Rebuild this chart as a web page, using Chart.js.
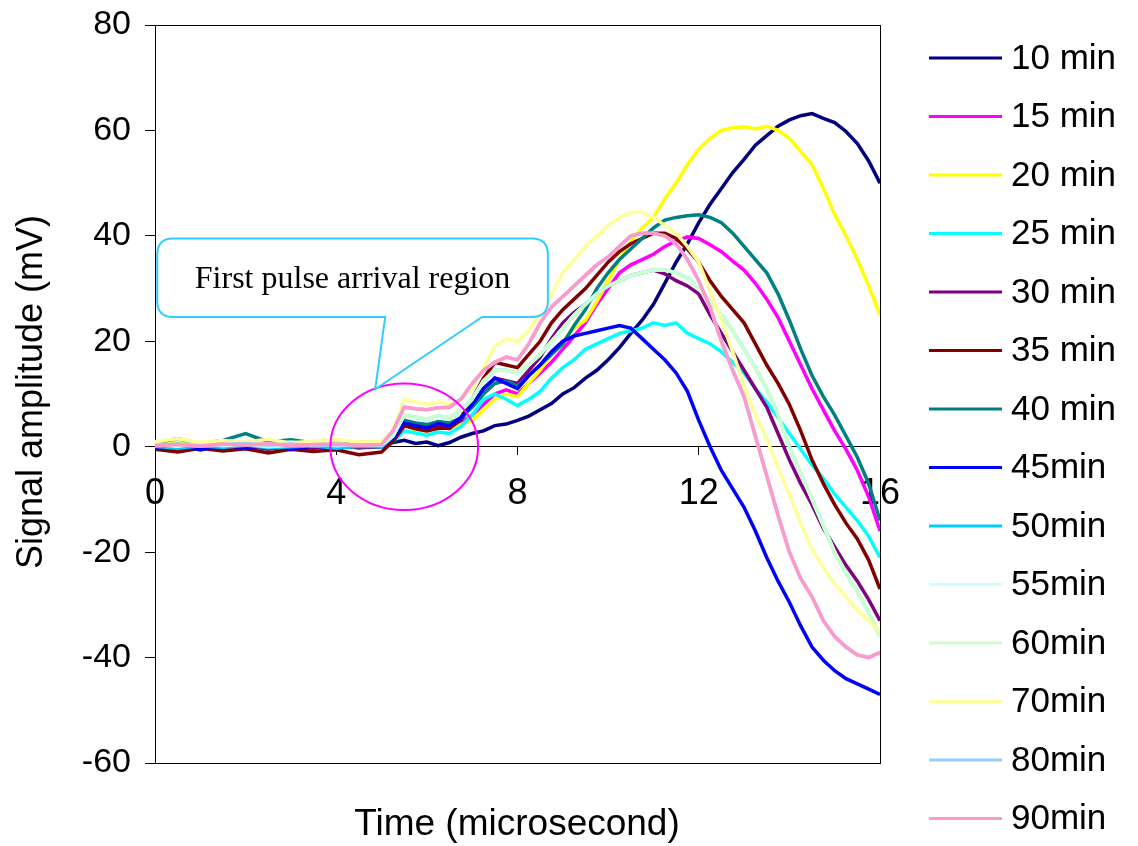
<!DOCTYPE html>
<html><head><meta charset="utf-8">
<script src="https://cdn.jsdelivr.net/npm/chart.js@4"></script>
<style>html,body{margin:0;padding:0;background:#fff}#wrap{width:1138px;height:846px}</style>
</head><body><div id="wrap"><canvas id="c" width="1138" height="846"></canvas></div>
<script>
// Time axis (microsecond): 0.5 steps in the quiet part, 0.25 steps after the first arrival
const times = [0,0.5,1,1.5,2,2.5,3,3.5,4,4.5,5,
  5.25,5.5,5.75,6,6.25,6.5,6.75,7,7.25,7.5,7.75,8,8.25,8.5,8.75,9,9.25,9.5,9.75,10,
  10.25,10.5,10.75,11,11.25,11.5,11.75,12,12.25,12.5,12.75,13,13.25,13.5,13.75,14,
  14.25,14.5,14.75,15,15.25,15.5,15.75,16];
const xTicks = [0,4,8,12,16];
const yTicks = [-60,-40,-20,0,20,40,60,80];

const seriesNames = ["10 min","15 min","20 min","25 min","30 min","35 min","40 min","45min","50min","55min","60min","70min","80min","90min"];

const s10 = [0.3,-0.2,0.4,0,-0.3,0.2,-0.2,0.3,0,0.2,-0.1,
  0.8,1.2,0.6,0.9,0.2,0.8,1.8,2.5,3.0,4.0,4.3,5.0,5.8,7.0,8.2,10.0,11.2,13.0,14.5,16.5,
  18.8,21.5,24.0,27.0,31.0,35.0,38.5,42.5,46.0,49.0,52.0,54.5,57.2,59.0,60.8,62.0,
  62.8,63.2,62.3,61.5,59.8,57.5,54.2,50.0];
const s15 = [0.2,0.5,-0.3,0.3,0.1,-0.2,0.4,0,0.3,-0.2,0.2,
  1.5,4,3.6,3.2,3.8,3.4,4.5,6,8,10,10.8,10,12,14,16,18.5,21,23.5,27,30,
  33,34.5,35.5,36.5,38,39,39.8,39.5,38.3,37,35.2,33.5,31,28,24.5,20,
  15.5,11,7,3,-0.5,-4.5,-9.5,-16];
const s20 = [0.5,0.8,0.2,0.6,0.9,0.3,0.7,0.4,0.8,0.5,0.6,
  1,4,3.2,3,3.6,3.5,4.2,5,7,9,10,9.5,12,14.5,17.5,20,22.5,24,27.5,31.5,
  35.5,39,41.5,43.5,47,50,53.5,56.5,58.5,60,60.5,60.7,60.3,60.8,60,58.5,
  56,53.5,49,44,40,35.5,30.5,25];
const s25 = [-0.3,0.2,-0.5,0,-0.2,0.3,-0.4,0.1,-0.3,0.2,-0.1,
  1,3,2.6,2.2,2.8,2.5,3.8,6,9,10,9,7.8,9,10.5,13,15,16.5,18.5,19.5,20.5,
  21.5,22,22.5,23.5,23,23.5,21.5,20.5,19.5,18,16,14,11,8.5,5.5,2.5,
  -0.5,-3.5,-6,-9,-11.5,-14,-17,-21];
const s30 = [0,-0.4,0.3,-0.2,0.2,-0.5,0.1,-0.3,0.2,-0.2,0,
  1,4,3.5,3.2,3.8,3.5,5,8,11,13,12.5,12,14.5,17,20.5,23.5,25.5,27,29,30.5,
  31.5,32.5,33,33.5,32.8,31.5,30.5,29,25,21.5,18,14.5,11,7.5,2.5,-2.5,
  -7,-11,-15.5,-19,-22.5,-25.5,-29,-33];
const s35 = [-0.5,-1,-0.3,-0.8,-0.4,-1.2,-0.5,-0.9,-0.6,-1.5,-1,
  1,4,3.4,3,3.5,3.5,5.5,9,13,16,15.5,15,17.5,20,23.5,26,28,30,32.5,35,
  37,38.5,39.5,40.5,40.5,39.5,37.5,35,31.5,28.5,26,23.5,19.5,15.5,12,8,
  3,-2.5,-7,-11,-14.5,-17.5,-21.5,-27];
const s40 = [0.8,1.5,0.6,1.2,2.5,0.9,1.3,0.7,1.1,0.8,1,
  1.5,5,4.5,4.2,4.8,4.5,5.5,7.5,10,12,12.5,11.5,13.5,15.5,17.5,19.5,23,26,30,33,
  35.5,37.5,39.5,41.5,43,43.5,43.8,44,43.5,42.5,40.5,38,35.5,33,29,24,
  18.5,13.5,9.5,6,2,-2,-7,-14];
const s45 = [-0.2,0.4,-0.6,0.3,-0.3,0.5,-0.5,0.2,-0.4,0.3,0.5,
  1.5,4.5,4,3.6,4.4,4,5.5,8,11,13,12,11,13.5,15.5,18,20,21,21.5,22,22.5,
  23,22.5,20.5,18.5,16.5,14,10.5,5,0,-4.5,-8,-11.5,-16,-21,-25.5,-29.5,
  -34,-38,-40.5,-42.5,-44,-45,-46,-47];
const s50 = [0.1,-0.3,0.2,-0.1,0.3,-0.2,0,0.2,-0.3,0.1,0,
  2,6,5.6,5.2,5.8,5.5,6.8,9,12.5,14.5,14.5,14,15.5,17.5,20,22.5,25,27,29,30.5,
  31.5,32.5,33,33.5,33.5,33,32,30,27.5,25,22,18.5,15,11,6,0,
  -5,-10,-15,-20,-24,-27.5,-31.5,-36];
const s55 = [0.4,0.1,0.6,0.2,0.5,0,0.3,0.6,0.2,0.4,0.3,
  2,6,5.6,5.2,5.8,5.5,6.8,9,12.5,14.5,14.5,14,15.5,17.5,20,22.5,25,27,29,30.5,
  31.5,32.5,33,33.5,33.5,33,32,30,27.5,25,22,18.5,15,11,6,0,
  -5,-10,-15,-20,-24,-27.5,-31.5,-36];
const s60 = [0.6,0.2,0.8,0.4,0.7,0.3,0.9,0.5,0.6,0.3,0.5,
  2,6,5.6,5.2,5.8,5.5,6.8,9,12.5,14.5,14.5,14,15.5,17.5,20,22.5,25,27,29,30.5,
  31.5,32.5,33,33.5,33.5,33,32,30,27.5,25,22,18.5,15,11,6,0,
  -5,-10,-15,-20,-24,-27.5,-31.5,-36];
const s70 = [1,1.5,0.8,1.2,0.9,1.4,0.7,1.1,1.3,0.9,1,
  3,9,8.5,8,8.5,8,9,11,15,19,20.5,20,22,25,29,33,35.5,38,40,42,
  43.5,44.5,44.5,43.5,42,40.5,38,35,29.5,24,18,11.5,6,1.5,-4,-9,
  -14.5,-19.5,-23,-26,-28.5,-31,-33,-35];
const s80 = [0.3,0.5,0.2,0.4,0.6,0.3,0.5,0.2,0.4,0.3,0.4,
  3,7.5,7.2,7,7.4,7.5,9,12,14.5,16,17,16.5,19.5,23.5,26.5,28.5,30.5,32.5,34.5,36,
  38,40,40.5,40.5,40,38.5,35.5,31.5,26.5,20,14.5,9.5,2,-5.5,-13,-20,
  -25,-28.5,-33,-36,-38,-39.5,-40,-39];
const s90 = [0.2,0.4,0.1,0.5,0.3,0.6,0.2,0.4,0.5,0.3,0.4,
  3,7.5,7.2,7,7.4,7.5,9,12,14.5,16,17,16.5,19.5,23.5,26.5,28.5,30.5,32.5,34.5,36,
  38,40,40.5,40.5,40,38.5,35.5,31.5,26.5,20,14.5,9.5,2,-5.5,-13,-20,
  -25,-28.5,-33,-36,-38,-39.5,-40,-39];

const seriesValues = [s10,s15,s20,s25,s30,s35,s40,s45,s50,s55,s60,s70,s80,s90];
const seriesColors = ["#000080","#FF00FF","#FFFF00","#00FFFF","#800080","#800000","#008080","#0000FF","#00CCFF","#CCFFFF","#CCFFCC","#FFFF99","#99CCFF","#FF99CC"];

const annotationText = "First pulse arrival region";
const xTitle = "Time (microsecond)";
const yTitle = "Signal amplitude (mV)";

const datasets = seriesNames.map((n,i)=>({
  label:n,
  data: times.map((t,j)=>({x:t,y:seriesValues[i][j]})),
  borderColor: seriesColors[i],
  backgroundColor: seriesColors[i],
  borderWidth: 3.5,
  pointRadius: 0,
  tension: 0,
  fill: false,
  order: seriesNames.length - i   // later series drawn on top
}));

const SANS = "'Liberation Sans', Arial, sans-serif";

const boxPlugin = {
  id:'boxPlugin',
  beforeDatasetsDraw(chart){
    const {ctx, chartArea:a} = chart;
    ctx.save();
    ctx.strokeStyle = '#000'; ctx.lineWidth = 1;
    ctx.strokeRect(Math.round(a.left)+0.5, Math.round(a.top)+0.5, Math.round(a.right-a.left), Math.round(a.bottom-a.top));
    ctx.restore();
  },
  afterDraw(chart){
    const {ctx, scales:{x,y}} = chart;
    ctx.save();
    // ellipse around first arrival
    ctx.strokeStyle = '#FF00FF'; ctx.lineWidth = 2;
    const cx = x.getPixelForValue(5.5), cy = y.getPixelForValue(0);
    const rx = x.getPixelForValue(5.5+1.63)-cx, ry = y.getPixelForValue(0)-y.getPixelForValue(12);
    ctx.beginPath(); ctx.ellipse(cx,cy,rx,ry,0,0,Math.PI*2); ctx.stroke();
    // callout
    const L = x.getPixelForValue(0.05), R = x.getPixelForValue(8.67);
    const T = y.getPixelForValue(39.5), B = y.getPixelForValue(24.6);
    const p1 = x.getPixelForValue(5.08), p2 = x.getPixelForValue(7.22);
    const tipX = x.getPixelForValue(4.86), tipY = y.getPixelForValue(10.9);
    const r = 16;
    ctx.beginPath();
    ctx.moveTo(L+r, T);
    ctx.lineTo(R-r, T);
    ctx.quadraticCurveTo(R, T, R, T+r);
    ctx.lineTo(R, B-r);
    ctx.quadraticCurveTo(R, B, R-r, B);
    ctx.lineTo(p2, B);
    ctx.lineTo(tipX, tipY);
    ctx.lineTo(p1, B);
    ctx.lineTo(L+r, B);
    ctx.quadraticCurveTo(L, B, L, B-r);
    ctx.lineTo(L, T+r);
    ctx.quadraticCurveTo(L, T, L+r, T);
    ctx.closePath();
    ctx.fillStyle = '#fff'; ctx.fill();
    ctx.strokeStyle = '#33CCFF'; ctx.lineWidth = 2; ctx.stroke();
    ctx.fillStyle = '#000';
    ctx.font = "32px 'Liberation Serif', 'Times New Roman', serif";
    ctx.textAlign = 'center'; ctx.textBaseline = 'middle';
    ctx.fillText(annotationText, (L+R)/2, (T+B)/2+2);
    // axis titles
    ctx.font = "37px " + SANS;
    ctx.fillText(xTitle, 517, 825);
    ctx.save();
    ctx.translate(32, 392);
    ctx.rotate(-Math.PI/2);
    ctx.font = "36px " + SANS;
    ctx.fillText(yTitle, 0, 0);
    ctx.restore();
    // legend
    ctx.textAlign = 'left';
    ctx.font = "35px " + SANS;
    chart.data.datasets.forEach((ds,i)=>{
      const ly = 58 + i*58.5;
      ctx.strokeStyle = ds.borderColor; ctx.lineWidth = 3;
      ctx.beginPath(); ctx.moveTo(929, ly); ctx.lineTo(1002, ly); ctx.stroke();
      ctx.fillStyle = '#000';
      ctx.fillText(ds.label, 1011, ly+1);
    });
    ctx.restore();
  }
};

new Chart(document.getElementById('c'), {
  type:'line',
  data:{datasets},
  options:{
    responsive:false,
    animation:false,
    layout:{padding:{top:25,right:258,bottom:83,left:0}},
    plugins:{legend:{display:false}, tooltip:{enabled:false}},
    scales:{
      x:{
        type:'linear', min:0, max:16,
        position:{y:0},
        afterBuildTicks(s){ s.ticks = xTicks.map(v=>({value:v})); },
        ticks:{font:{size:36, family:SANS}, color:'#000', padding:18, maxRotation:0},
        grid:{drawOnChartArea:false, drawTicks:true, tickLength:8, color:'#000'},
        border:{color:'#000', width:1}
      },
      y:{
        type:'linear', min:-60, max:80,
        afterBuildTicks(s){ s.ticks = yTicks.map(v=>({value:v})); },
        afterFit(s){ s.width = 155; s.paddingTop = 0; s.paddingBottom = 0; },
        ticks:{font:{size:34, family:SANS, lineHeight:0.5}, color:'#000', padding:14},
        grid:{drawOnChartArea:false, drawTicks:true, tickLength:10, color:'#000'},
        border:{color:'#000', width:1}
      }
    }
  },
  plugins:[boxPlugin]
});
</script></body></html>
